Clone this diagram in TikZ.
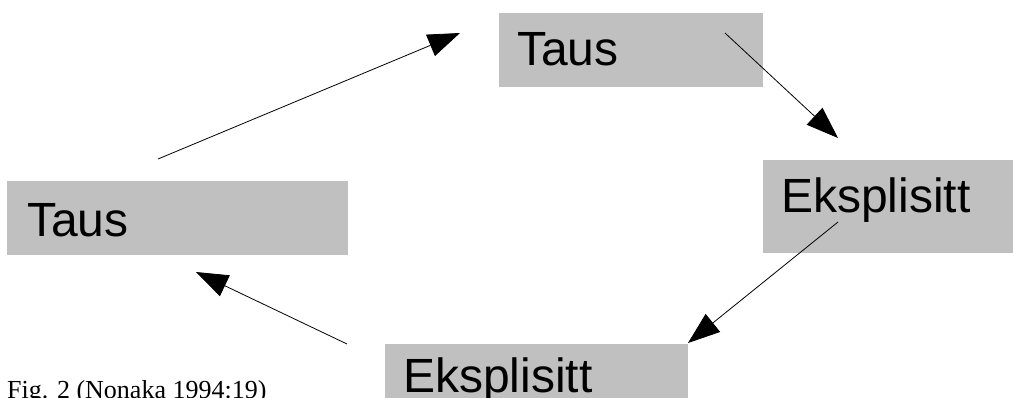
\documentclass[tikz,border=0pt]{standalone}
\usepackage{fontspec}
\setmainfont{Liberation Sans}
\newfontfamily\capfont{Liberation Serif}
\usetikzlibrary{arrows.meta}
\definecolor{boxgray}{HTML}{C0C0C0}
\tikzset{
  graybox/.style={fill=boxgray, draw=none, inner sep=0pt, outer sep=0pt, anchor=north west},
  label text/.style={anchor=base west, inner sep=0pt, font=\fontsize{48bp}{52bp}\selectfont},
  flow/.style={line width=0.8bp, -{Triangle[length=32bp,width=23bp]}}
}
\begin{document}
\begin{tikzpicture}[x=1bp,y=-1bp]
\useasboundingbox (0,0) rectangle (1013,397);
% boxes
\node[graybox, minimum width=264bp, minimum height=74bp] (b1) at (499,13) {};
\node[graybox, minimum width=252bp, minimum height=93bp] (b2) at (763,160) {};
\node[graybox, minimum width=303bp, minimum height=60bp] (b3) at (385,344) {};
\node[graybox, minimum width=341bp, minimum height=74bp] (b4) at (7,181) {};
% texts
\node[label text] (t1) at (517,65) {Taus};
\node[label text] (t2) at (781,212) {Eksplisitt};
\node[label text] (t3) at (403,392) {Eksplisitt};
\node[label text] (t4) at (27,236) {Taus};
\node[anchor=base west, inner sep=0pt, font=\capfont\fontsize{26bp}{28bp}\selectfont] (cap) at (7,398) {Fig. 2 (Nonaka 1994:19)};
% connector end points
\coordinate (a1s) at (158,159);
\coordinate (a1e) at (460,33);
\coordinate (a2s) at (725,33);
\coordinate (a2e) at (838,138);
\coordinate (a3s) at (838,222);
\coordinate (a3e) at (688,343);
\coordinate (a4s) at (347,344);
\coordinate (a4e) at (196,272);
\draw[flow] (a1s) -- (a1e);
\draw[flow] (a2s) -- (a2e);
\draw[flow] (a3s) -- (a3e);
\draw[flow] (a4s) -- (a4e);
\end{tikzpicture}
\end{document}
